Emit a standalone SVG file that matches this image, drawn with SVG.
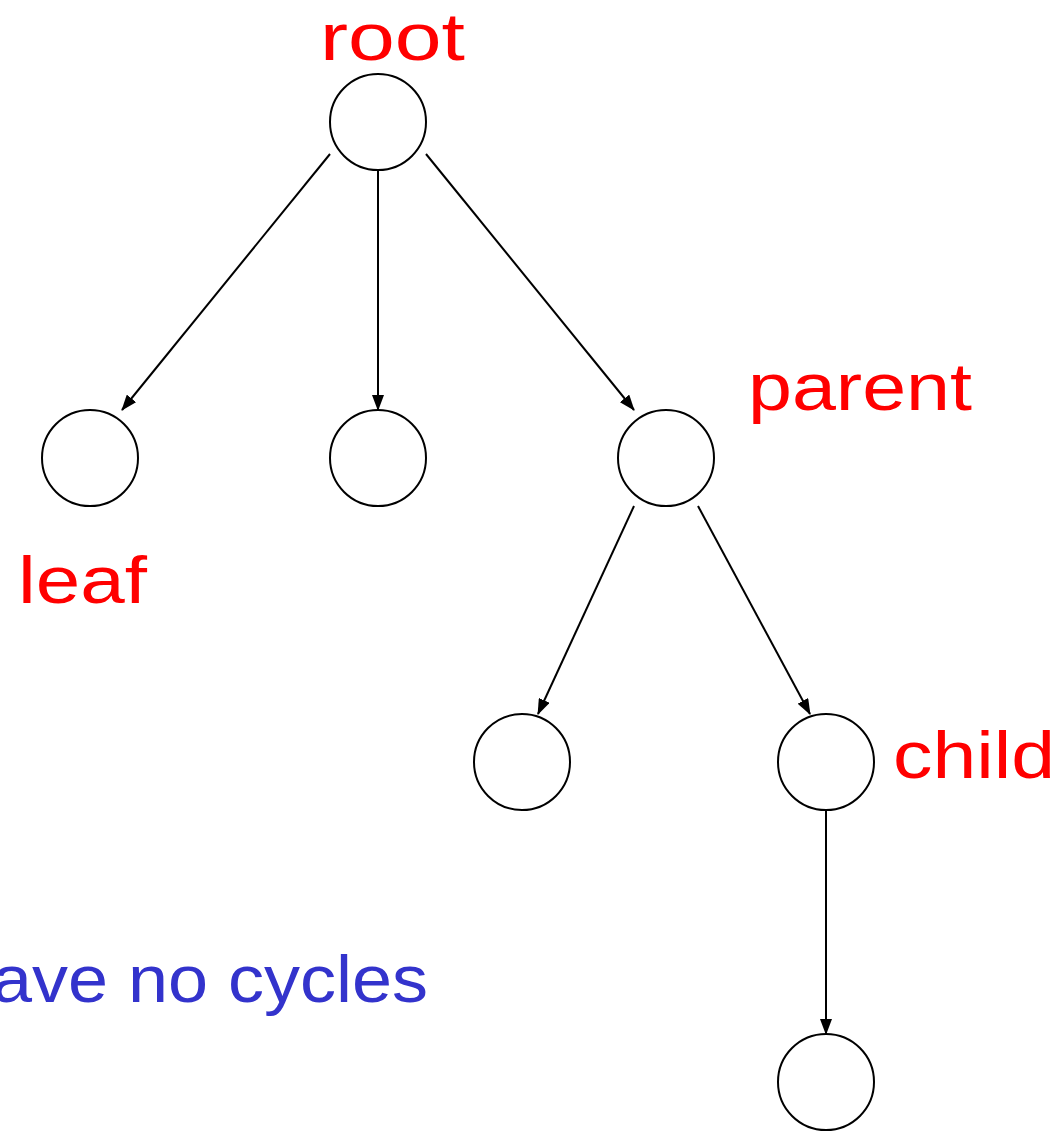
<svg xmlns="http://www.w3.org/2000/svg" width="1059" height="1131" viewBox="0 0 1059 1131">
<defs>
<style>
.node{fill:#fff;stroke:#000;stroke-width:2}
.edge{stroke:#000;stroke-width:2;fill:none;marker-end:url(#ah)}
.lbl{font-family:"Liberation Sans","DejaVu Sans",sans-serif;font-size:66px;fill:#ff0000}
.note{font-family:"Liberation Sans","DejaVu Sans",sans-serif;font-size:66px;fill:#3333cc}
</style>
<marker id="ah" viewBox="0 0 16 12" refX="15" refY="6" markerWidth="16" markerHeight="12" markerUnits="userSpaceOnUse" orient="auto">
<path d="M0,0 L16,6 L0,12 z" fill="#000"/>
</marker>
</defs>
<rect width="1059" height="1131" fill="#fff"/>
<g id="connectors">
<line class="edge" x1="330" y1="154" x2="122" y2="410"/>
<line class="edge" x1="378" y1="170" x2="378" y2="410"/>
<line class="edge" x1="426" y1="154" x2="634" y2="410"/>
<line class="edge" x1="634" y1="506" x2="538" y2="714"/>
<line class="edge" x1="698" y1="506" x2="810" y2="714"/>
<line class="edge" x1="826" y1="810" x2="826" y2="1034"/>
</g>
<g id="node-root"><circle class="node" cx="378" cy="122" r="48"/><text class="lbl" x="320" y="60" textLength="145" lengthAdjust="spacingAndGlyphs">root</text></g>
<g id="node-leaf"><circle class="node" cx="90" cy="458" r="48"/><text class="lbl" x="18" y="603" textLength="129" lengthAdjust="spacingAndGlyphs">leaf</text></g>
<g id="node-mid"><circle class="node" cx="378" cy="458" r="48"/></g>
<g id="node-parent"><circle class="node" cx="666" cy="458" r="48"/><text class="lbl" x="748" y="410" textLength="224" lengthAdjust="spacingAndGlyphs">parent</text></g>
<g id="node-left"><circle class="node" cx="522" cy="762" r="48"/></g>
<g id="node-child"><circle class="node" cx="826" cy="762" r="48"/><text class="lbl" x="893" y="778" textLength="162" lengthAdjust="spacingAndGlyphs">child</text></g>
<g id="node-bottom"><circle class="node" cx="826" cy="1082" r="48"/></g>
<text class="note" x="-8" y="1002" textLength="436" lengthAdjust="spacingAndGlyphs">ave no cycles</text>
</svg>
